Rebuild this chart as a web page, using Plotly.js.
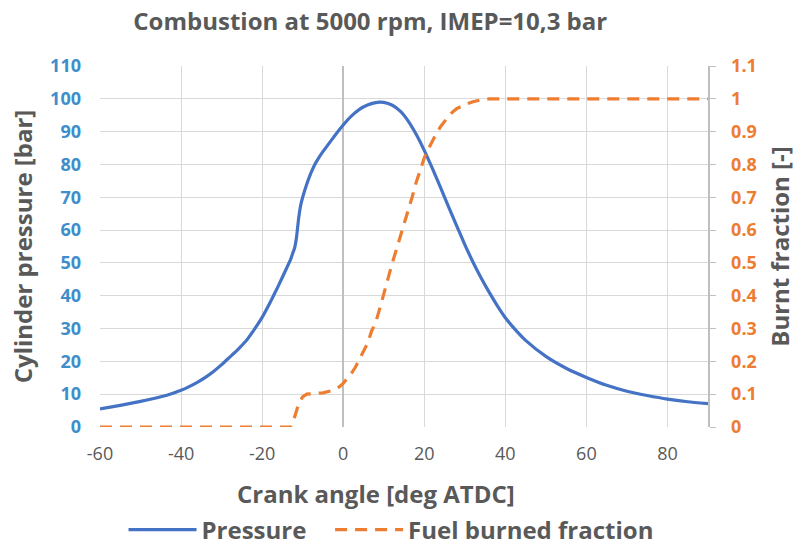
<!DOCTYPE html>
<html>
<head>
<meta charset="utf-8">
<script src="https://cdn.plot.ly/plotly-3.0.1.min.js"></script>
<style>html,body{margin:0;padding:0;background:#fff}#chart{width:798px;height:547px}</style>
</head>
<body>
<div id="chart"></div>
<script>
// Crank angle [deg ATDC] and cylinder pressure [bar]
const pressureAngle = [-60,-55,-50,-45,-42,-40,-38,-36,-34,-32,-30,-28,-26,-24,-22,-20,-18,-16,-14,-13,-12.5,-12,-11.5,-11,-10.5,-10,-9,-8,-7,-6,-5,-4,-2,0,2,4,6,8,9,10,12,14,16,18,20,22,24,26,28,30,32,34,36,38,40,43,45,50,55,60,65,70,75,80,85,90];
const pressure = [5.5,6.6,7.8,9.2,10.3,11.2,12.3,13.6,15.1,16.9,19.0,21.3,23.6,26.2,29.6,33.4,38,43,48.3,51,52.8,54.5,58,63.5,67.5,70,74,77.3,80,82.1,83.9,85.6,88.9,92,94.7,96.8,98.1,98.85,99,98.9,98.1,96.3,93.3,89.2,84.3,78.8,73,67.1,61.3,55.6,50.3,45.5,41.1,37,33.3,28.9,26.4,21.5,17.9,15.1,12.7,10.9,9.6,8.5,7.7,7.1];

// Crank angle [deg ATDC] and fuel burned fraction [-]
const fractionAngle = [-60,-50,-40,-30,-20,-13,-12,-11,-10,-9,-7,-5,-3,-1,0,1,2,3,4,5,6,7,8,9,10,11,12,13,14,15,16,17,18,19,20,21,22,23,24,25,26,27,28,30,32,34,36,40,50,60,70,80,90];
const burnedFraction = [0,0,0,0,0,0,0.03,0.07,0.092,0.1,0.102,0.104,0.11,0.122,0.133,0.147,0.163,0.182,0.205,0.228,0.255,0.292,0.318,0.36,0.41,0.45,0.495,0.535,0.575,0.618,0.66,0.7,0.745,0.785,0.82,0.847,0.872,0.895,0.915,0.932,0.947,0.96,0.97,0.982,0.991,0.997,1,1,1,1,1,1,1];

const xTicks = [-60,-40,-20,0,20,40,60,80];
const xTickText = ['-60','-40','-20','0','20','40','60','80'];
const leftTicks = [0,10,20,30,40,50,60,70,80,90,100,110];
const rightTicks = [0,0.1,0.2,0.3,0.4,0.5,0.6,0.7,0.8,0.9,1,1.1];
const rightTickText = ['0','0.1','0.2','0.3','0.4','0.5','0.6','0.7','0.8','0.9','1','1.1'];

const FONT = 'Open Sans, Noto Sans, sans-serif';
const GREY = '#595959';

const traces = [
  {x: pressureAngle, y: pressure, name: 'Pressure&nbsp;&nbsp;&nbsp;', type: 'scatter', mode: 'lines',
   line: {color: '#4472C4', width: 3.2, shape: 'spline', smoothing: 0.5}, yaxis: 'y'},
  {x: fractionAngle, y: burnedFraction, name: 'Fuel burned fraction', type: 'scatter', mode: 'lines',
   line: {color: '#ED7D31', width: 3.2, dash: '12px,8px'}, yaxis: 'y2'}
];

const layout = {
  width: 798, height: 547,
  margin: {l: 100, r: 90, t: 66, b: 120},
  paper_bgcolor: '#ffffff', plot_bgcolor: '#ffffff',
  font: {family: FONT, color: GREY},
  title: {text: '<b>Combustion at 5000 rpm, IMEP=10,3 bar</b>', x: 0.464, xanchor: 'center', y: 0.96, yanchor: 'middle',
          font: {size: 24, color: GREY, family: FONT}},
  xaxis: {range: [-60, 90], tickvals: xTicks, ticktext: xTickText, showgrid: true, gridcolor: '#d9d9d9', gridwidth: 1,
          zeroline: true, zerolinecolor: '#bfbfbf', zerolinewidth: 1.5, showline: false, automargin: false,
          ticks: '', ticklabelstandoff: 14, tickfont: {size: 18, color: GREY, family: FONT}},
  yaxis: {range: [0, 110], tickvals: leftTicks, showgrid: true, gridcolor: '#d9d9d9', gridwidth: 1, automargin: false,
          zeroline: false, showline: false, ticks: '', ticklabelstandoff: 18,
          tickfont: {size: 18, color: '#3D8ECB', family: FONT, weight: 'bold'},
          title: {text: '<b>Cylinder pressure [bar]</b>', font: {size: 24, color: GREY, family: FONT}, standoff: 10}},
  yaxis2: {range: [0, 1.1], tickvals: rightTicks, ticktext: rightTickText, overlaying: 'y', side: 'right', automargin: false,
           showgrid: false, zeroline: false, showline: true, linecolor: '#bfbfbf', linewidth: 1.5,
           ticks: 'outside', ticklen: 6, tickcolor: '#bfbfbf', ticklabelstandoff: 12,
           tickfont: {size: 18, color: '#ED7D31', family: FONT, weight: 'bold'},
           title: {text: '<b>Burnt fraction [-]</b>', font: {size: 24, color: GREY, family: FONT}, standoff: 16}},
  annotations: [
    {text: '<b>Crank angle [deg ATDC]</b>', xref: 'paper', yref: 'paper', x: 0.454, y: -0.183,
     xanchor: 'center', yanchor: 'middle', showarrow: false, font: {size: 24, color: GREY, family: FONT}}
  ],
  showlegend: true,
  legend: {orientation: 'h', x: 0.49, xref: 'container', xanchor: 'center', y: 0.031, yref: 'container', yanchor: 'middle',
           font: {size: 24, color: GREY, family: FONT, weight: 'bold'}, itemwidth: 68,
           bgcolor: 'rgba(0,0,0,0)'}
};

Plotly.newPlot('chart', traces, layout, {displayModeBar: false, staticPlot: true});
</script>
</body>
</html>
